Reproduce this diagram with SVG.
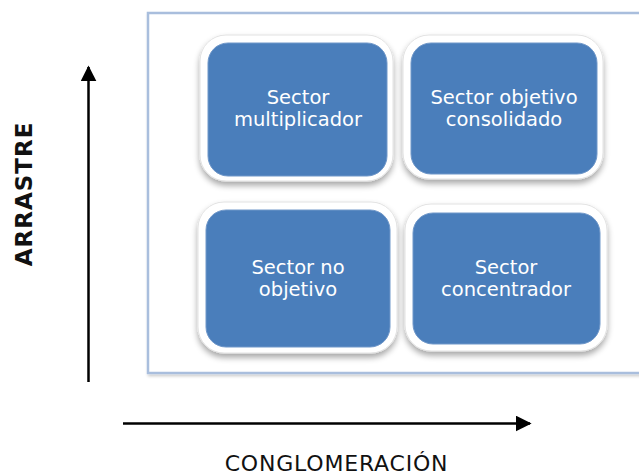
<svg xmlns="http://www.w3.org/2000/svg" width="639" height="476" viewBox="0 0 639 476">
<defs>
<filter id="sh" x="-20%" y="-20%" width="140%" height="150%">
<feGaussianBlur in="SourceAlpha" stdDeviation="3"/>
<feOffset dx="0" dy="4" result="b"/>
<feComponentTransfer><feFuncA type="linear" slope="0.35"/></feComponentTransfer>
<feMerge><feMergeNode/><feMergeNode in="SourceGraphic"/></feMerge>
</filter>
<filter id="fsh" x="-5%" y="-5%" width="110%" height="110%">
<feGaussianBlur in="SourceAlpha" stdDeviation="1.5"/>
<feOffset dx="1" dy="2"/>
<feComponentTransfer><feFuncA type="linear" slope="0.2"/></feComponentTransfer>
<feMerge><feMergeNode/><feMergeNode in="SourceGraphic"/></feMerge>
</filter>
<marker id="ah" viewBox="0 0 10 10" refX="9" refY="5" markerWidth="16" markerHeight="16" markerUnits="userSpaceOnUse" orient="auto">
<path d="M0,0 L10,5 L0,10 z" fill="#000"/>
</marker>
</defs>
<style>
.rim{fill:#fff;stroke:#e2e2e2;stroke-width:1}
.box{fill:#4a7ebb;stroke:#6f97c9;stroke-width:1}
.t{font-family:"DejaVu Sans",sans-serif;font-size:19.5px;fill:#fff;text-anchor:middle}
.ax{stroke:#000;stroke-width:2.5;fill:none}
.lab{font-family:"DejaVu Sans",sans-serif;fill:#111}
</style>
<rect width="639" height="476" fill="#fff"/>
<g id="frame">
<rect x="148" y="13" width="500" height="360" fill="#fff" stroke="#a9bedd" stroke-width="2.5" filter="url(#fsh)"/>
</g>
<g id="n1">
<rect class="rim" x="200" y="35" width="193" height="146" rx="26" filter="url(#sh)"/>
<rect class="box" x="208" y="43" width="179" height="133" rx="20"/>
<text class="t" x="298" y="104">Sector</text>
<text class="t" x="298" y="126">multiplicador</text>
</g>
<g id="n2">
<rect class="rim" x="403" y="35" width="200" height="144" rx="26" filter="url(#sh)"/>
<rect class="box" x="411" y="43" width="186" height="131" rx="20"/>
<text class="t" x="504" y="104">Sector objetivo</text>
<text class="t" x="504" y="126">consolidado</text>
</g>
<g id="n3">
<rect class="rim" x="198" y="202" width="199" height="151" rx="26" filter="url(#sh)"/>
<rect class="box" x="206" y="210" width="184" height="137" rx="20"/>
<text class="t" x="298" y="274">Sector no</text>
<text class="t" x="298" y="296">objetivo</text>
</g>
<g id="n4">
<rect class="rim" x="405" y="204" width="202" height="147" rx="26" filter="url(#sh)"/>
<rect class="box" x="413" y="213" width="187" height="131" rx="20"/>
<text class="t" x="506" y="274">Sector</text>
<text class="t" x="506" y="296">concentrador</text>
</g>
<g id="connectors">
<line class="ax" x1="88.5" y1="382" x2="88.5" y2="67" marker-end="url(#ah)"/>
<line class="ax" x1="123" y1="423.5" x2="530" y2="423.5" marker-end="url(#ah)"/>
</g>
<g id="labels">
<text class="lab" x="0" y="0" font-size="23" font-weight="bold" letter-spacing="1" text-anchor="middle" transform="translate(32,194) rotate(-90)">ARRASTRE</text>
<text class="lab" x="336.5" y="471" font-size="22" letter-spacing="0.8" text-anchor="middle">CONGLOMERACIÓN</text>
</g>
</svg>
